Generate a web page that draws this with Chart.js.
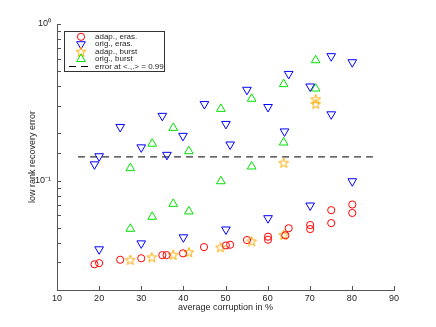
<!DOCTYPE html>
<html>
<head>
<meta charset="utf-8">
<script src="https://cdn.jsdelivr.net/npm/chart.js@4.4.1/dist/chart.umd.min.js"></script>
<style>
  body { margin: 0; background: #fff; }
  canvas { display: block; }
</style>
</head>
<body>
<canvas id="grafico" width="436" height="327"></canvas>
<script>
// valores
const adapErasX = [18.9, 20.0, 25.0, 30.0, 35.0, 36.0, 39.9, 44.9, 50.1, 51.1, 55.1, 60.1, 60.1, 64.2, 65.0, 70.1, 70.1, 75.1, 75.1, 80.1, 80.1];
const adapErasY = [0.0292, 0.0297, 0.0312, 0.0319, 0.0334, 0.0334, 0.0343, 0.0376, 0.0385, 0.0389, 0.0417, 0.0438, 0.0419, 0.0447, 0.0496, 0.052, 0.049, 0.0647, 0.0535, 0.0703, 0.0621];

const origErasX = [18.9, 20.0, 20.0, 25.0, 30.0, 30.0, 35.0, 36.1, 39.9, 40.0, 45.0, 50.1, 50.1, 51.1, 55.1, 60.1, 60.1, 64.0, 65.0, 70.1, 70.1, 75.1, 75.1, 80.1, 80.1];
const origErasY = [0.127, 0.143, 0.0364, 0.220, 0.163, 0.0397, 0.259, 0.146, 0.193, 0.0434, 0.308, 0.230, 0.0487, 0.170, 0.380, 0.295, 0.0575, 0.206, 0.480, 0.399, 0.0693, 0.623, 0.265, 0.570, 0.099];

const adapBurstX = [27.4, 32.5, 37.6, 41.3, 48.8, 56.2, 63.8, 63.8, 71.4, 71.4];
const adapBurstY = [0.0312, 0.0324, 0.0336, 0.0349, 0.0375, 0.041, 0.045, 0.130, 0.331, 0.309];

const origBurstX = [27.4, 27.4, 32.6, 32.6, 37.6, 37.6, 41.3, 41.3, 48.9, 48.9, 56.2, 56.2, 63.8, 63.8, 71.4, 71.4];
const origBurstY = [0.120, 0.0492, 0.172, 0.0587, 0.217, 0.071, 0.154, 0.0635, 0.287, 0.099, 0.333, 0.123, 0.413, 0.175, 0.587, 0.387];

const limiarX = [15, 85];
const limiarY = [0.1416, 0.1416];

const rotulos = ['adap., eras.', 'orig., eras.', 'adap., burst', 'orig., burst', 'error at <.,.> = 0.99'];
const xTicks = [10, 20, 30, 40, 50, 60, 70, 80, 90];
const yRotulos = { 1: '10\u2070', 0.1: '10\u207B\u00B9' };

const fonte = 'Liberation Sans, Arial, sans-serif';
const corTexto = '#262626';
const corEixo = '#555';

function pares(xs, ys) {
    return xs.map((v, i) => ({ x: v, y: ys[i] }));
}

// estrela de cinco pontas (o chart.js só tem a "star" em asterisco)
function fazerEstrela(raio, cor) {
    const c = document.createElement('canvas');
    const tam = Math.ceil(raio * 2 + 3);
    c.width = tam;
    c.height = tam;
    const g = c.getContext('2d');
    g.strokeStyle = cor;
    g.lineWidth = 1;
    g.beginPath();
    for (let k = 0; k < 10; k++) {
        const r = k % 2 === 0 ? raio : raio * 0.4;
        const a = -Math.PI / 2 + k * Math.PI / 5;
        const px = tam / 2 + r * Math.cos(a);
        const py = tam / 2 + 0.5 + r * Math.sin(a);
        if (k === 0) g.moveTo(px, py); else g.lineTo(px, py);
    }
    g.closePath();
    g.stroke();
    return c;
}
const estrela = fazerEstrela(5.2, 'rgb(255,170,0)');

// marcas de escala para dentro
const marcasInternas = {
    id: 'marcasInternas',
    beforeDatasetsDraw(chart) {
        const ctx = chart.ctx;
        const sx = chart.scales.x;
        const sy = chart.scales.y;
        const area = chart.chartArea;
        ctx.save();
        ctx.strokeStyle = corEixo;
        ctx.lineWidth = 1;
        ctx.beginPath();
        sx.ticks.forEach(t => {
            const px = Math.round(sx.getPixelForValue(t.value)) + 0.5;
            ctx.moveTo(px, area.bottom);
            ctx.lineTo(px, area.bottom - 4);
        });
        sy.ticks.forEach(t => {
            const py = Math.round(sy.getPixelForValue(t.value)) + 0.5;
            ctx.moveTo(area.left, py);
            ctx.lineTo(area.left + 4, py);
        });
        ctx.stroke();
        ctx.restore();
    }
};

// legenda dentro da área do gráfico, com caixa
const legenda = {
    id: 'legenda',
    afterDraw(chart) {
        const ctx = chart.ctx;
        ctx.save();
        ctx.fillStyle = '#fff';
        ctx.fillRect(64.5, 31.5, 100, 40);
        ctx.strokeStyle = '#333';
        ctx.lineWidth = 1;
        ctx.strokeRect(64.5, 31.5, 100, 40);
        ctx.font = '8px ' + fonte;
        ctx.textBaseline = 'middle';
        chart.data.datasets.forEach((ds, i) => {
            const cy = 36.8 + i * 7.4;
            if (ds.type === 'line') {
                ctx.strokeStyle = ds.borderColor;
                ctx.setLineDash(ds.borderDash);
                ctx.beginPath();
                ctx.moveTo(69, Math.round(cy) + 0.5);
                ctx.lineTo(89, Math.round(cy) + 0.5);
                ctx.stroke();
                ctx.setLineDash([]);
            } else {
                ctx.strokeStyle = ds.borderColor;
                ctx.fillStyle = 'rgba(0,0,0,0)';
                ctx.lineWidth = 1;
                Chart.helpers.drawPoint(ctx, {
                    pointStyle: ds.pointStyle,
                    rotation: ds.rotation || 0,
                    radius: ds.pointRadius,
                    borderWidth: 1
                }, 81, cy);
            }
            ctx.fillStyle = corTexto;
            ctx.fillText(ds.label, 95, cy);
        });
        ctx.restore();
    }
};

new Chart(document.getElementById('grafico'), {
    type: 'scatter',
    data: {
        datasets: [{
            label: rotulos[0],
            data: pares(adapErasX, adapErasY),
            pointStyle: 'circle',
            pointRadius: 3.6,
            borderWidth: 1,
            borderColor: 'rgb(255,0,0)',
            backgroundColor: 'rgba(0,0,0,0)'
        }, {
            label: rotulos[1],
            data: pares(origErasX, origErasY),
            pointStyle: 'triangle',
            rotation: 180,
            pointRadius: 5,
            borderWidth: 1,
            borderColor: 'rgb(0,0,255)',
            backgroundColor: 'rgba(0,0,0,0)'
        }, {
            label: rotulos[2],
            data: pares(adapBurstX, adapBurstY),
            pointStyle: estrela,
            pointRadius: 5,
            borderWidth: 1,
            borderColor: 'rgb(255,170,0)',
            backgroundColor: 'rgba(0,0,0,0)'
        }, {
            label: rotulos[3],
            data: pares(origBurstX, origBurstY),
            pointStyle: 'triangle',
            pointRadius: 5,
            borderWidth: 1,
            borderColor: 'rgb(0,224,0)',
            backgroundColor: 'rgba(0,0,0,0)'
        }, {
            type: 'line',
            label: rotulos[4],
            data: pares(limiarX, limiarY),
            borderColor: '#000',
            borderWidth: 1,
            borderDash: [7, 5],
            pointRadius: 0,
            fill: false
        }]
    },
    options: {
        responsive: false,
        animation: false,
        layout: { padding: { left: 0, right: 42, top: 24, bottom: 0 } },
        plugins: {
            legend: { display: false },
            tooltip: { enabled: false }
        },
        scales: {
            x: {
                type: 'linear',
                min: 10,
                max: 90,
                afterFit: s => { s.height = 37; },
                afterBuildTicks: s => { s.ticks = xTicks.map(v => ({ value: v })); },
                grid: { display: false, drawTicks: false },
                border: { display: true, color: corEixo },
                ticks: { padding: 3, color: corTexto, font: { size: 9, family: fonte }, maxRotation: 0 },
                title: {
                    display: true,
                    text: 'average corruption in %',
                    color: corTexto,
                    font: { size: 9, family: fonte },
                    padding: { top: 0, bottom: 14 }
                }
            },
            y: {
                type: 'logarithmic',
                min: 0.02,
                max: 1,
                afterFit: s => { s.width = 57; },
                grid: { display: false, drawTicks: false },
                border: { display: true, color: corEixo },
                ticks: {
                    autoSkip: false,
                    padding: 6,
                    color: corTexto,
                    font: { size: 9, family: fonte },
                    callback: v => yRotulos[v] || ''
                },
                title: {
                    display: true,
                    text: 'low rank recovery error',
                    color: corTexto,
                    font: { size: 9, family: fonte },
                    padding: { top: 27, bottom: 0 }
                }
            }
        }
    },
    plugins: [marcasInternas, legenda]
});
</script>
</body>
</html>
